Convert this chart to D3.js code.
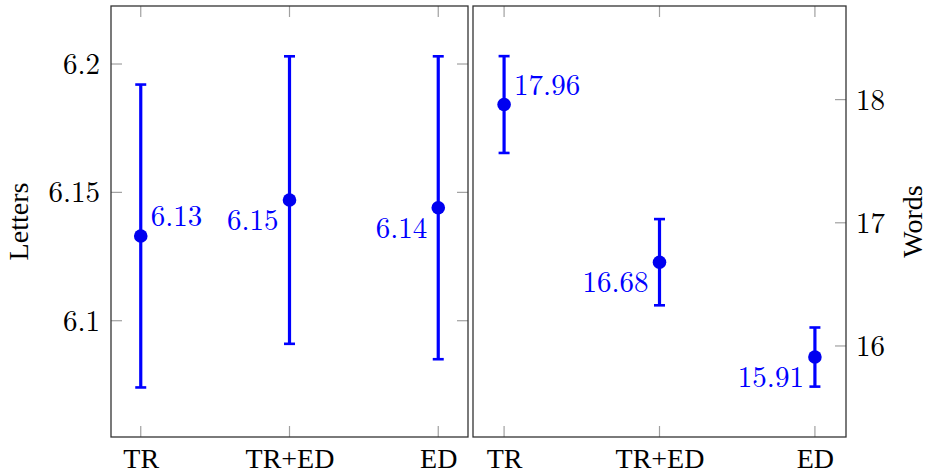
<!DOCTYPE html>
<html>
<head>
<meta charset="utf-8">
<script src="https://cdn.jsdelivr.net/npm/d3@7"></script>
<style>
  html, body { margin: 0; padding: 0; background: #fff; }
  svg { display: block; }
</style>
</head>
<body>
<svg id="chart" width="930" height="475"></svg>
<script>
// ---- data ----
const categories = ["TR", "TR+ED", "ED"];
const lettersMean = [6.133, 6.147, 6.144];
const lettersErr = [0.059, 0.056, 0.059];
const lettersTicks = [6.1, 6.15, 6.2];
const lettersDomain = [6.0547, 6.2226];
const wordsMean = [17.96, 16.68, 15.91];
const wordsErr = [0.393, 0.35, 0.24];
const wordsTicks = [16, 17, 18];
const wordsDomain = [15.261, 18.76];

(function () {
const svg = d3.select("#chart");
const MATH_FONT = '"Latin Modern Roman", "Liberation Serif", serif';
const TEXT_FONT = '"Liberation Serif", serif';
const FS_MATH = 29;
const FS_TEXT = 28;
const blue = "#0000ff";
const plotTop = 6, plotBottom = 437;

function panel(opts) {
  const { left, right, means, errs, ticks, domain, label, side, fmtTick } = opts;
  const g = svg.append("g");
  const x = d3.scaleLinear().domain([-0.2, 2.2]).range([left, right]);
  const y = d3.scaleLinear().domain(domain).range([plotBottom, plotTop]);

  const tl = 11;
  categories.forEach((c, i) => {
    g.append("line").attr("x1", x(i)).attr("x2", x(i)).attr("y1", plotBottom).attr("y2", plotBottom - tl)
      .attr("stroke", "#a0a0a0").attr("stroke-width", 1.2);
    g.append("line").attr("x1", x(i)).attr("x2", x(i)).attr("y1", plotTop).attr("y2", plotTop + tl)
      .attr("stroke", "#a0a0a0").attr("stroke-width", 1.2);
  });
  ticks.forEach(t => {
    if (side === "left") {
      g.append("line").attr("x1", left).attr("x2", left + tl).attr("y1", y(t)).attr("y2", y(t))
        .attr("stroke", "#a0a0a0").attr("stroke-width", 1.2);
    }
    g.append("line").attr("x1", right).attr("x2", right - tl).attr("y1", y(t)).attr("y2", y(t))
      .attr("stroke", "#a0a0a0").attr("stroke-width", 1.2);
  });

  g.append("rect").attr("x", left).attr("y", plotTop).attr("width", right - left).attr("height", plotBottom - plotTop)
    .attr("fill", "none").attr("stroke", "#333").attr("stroke-width", 1.3);

  const xAxis = d3.axisBottom(x).tickValues([0, 1, 2]).tickFormat(i => categories[i]).tickSize(0).tickPadding(0);
  const xg = g.append("g").attr("transform", `translate(0,${plotBottom})`).call(xAxis);
  xg.select(".domain").remove();
  xg.selectAll("text").attr("fill", "#000").attr("dy", null).attr("y", 31)
    .style("font-family", TEXT_FONT).style("font-size", FS_TEXT + "px");

  let yAxis;
  if (side === "left") {
    yAxis = d3.axisLeft(y).tickValues(ticks).tickFormat(fmtTick).tickSize(0).tickPadding(11);
  } else {
    yAxis = d3.axisRight(y).tickValues(ticks).tickFormat(fmtTick).tickSize(0).tickPadding(10);
  }
  const yg = g.append("g").attr("transform", `translate(${side === "left" ? left : right},0)`).call(yAxis);
  yg.select(".domain").remove();
  yg.selectAll("text").attr("fill", "#000").attr("dy", "0.33em")
    .style("font-family", MATH_FONT).style("font-size", FS_MATH + "px");

  const midY = (plotTop + plotBottom) / 2;
  const tx = side === "left" ? 28 : 922;
  g.append("text").attr("transform", `translate(${tx},${midY}) rotate(-90)`)
    .attr("text-anchor", "middle").attr("fill", "#000")
    .style("font-family", TEXT_FONT).style("font-size", FS_TEXT + "px").text(label);

  const capW = 11;
  means.forEach((m, i) => {
    const cx = x(i);
    const y1 = y(m + errs[i]), y0 = y(m - errs[i]);
    g.append("line").attr("x1", cx).attr("x2", cx).attr("y1", y1).attr("y2", y0)
      .attr("stroke", blue).attr("stroke-width", 3.2);
    [y1, y0].forEach(yy => g.append("line").attr("x1", cx - capW / 2).attr("x2", cx + capW / 2)
      .attr("y1", yy).attr("y2", yy).attr("stroke", blue).attr("stroke-width", 2.6));
    g.append("circle").attr("cx", cx).attr("cy", y(m)).attr("r", 6.8).attr("fill", "#0000f0");
    const lbl = g.append("text").attr("fill", blue)
      .style("font-family", MATH_FONT).style("font-size", FS_MATH + "px").text(m.toFixed(2));
    if (i === 0) {
      lbl.attr("x", cx + 10).attr("y", y(m) - 10).attr("text-anchor", "start");
    } else {
      lbl.attr("x", cx - 11).attr("y", y(m) + 30).attr("text-anchor", "end");
    }
  });
}

panel({ left: 111, right: 468, means: lettersMean, errs: lettersErr, ticks: lettersTicks,
  domain: lettersDomain, label: "Letters", side: "left", fmtTick: d => String(d) });
panel({ left: 473, right: 846, means: wordsMean, errs: wordsErr, ticks: wordsTicks,
  domain: wordsDomain, label: "Words", side: "right", fmtTick: d => String(d) });
})();
</script>
</body>
</html>
